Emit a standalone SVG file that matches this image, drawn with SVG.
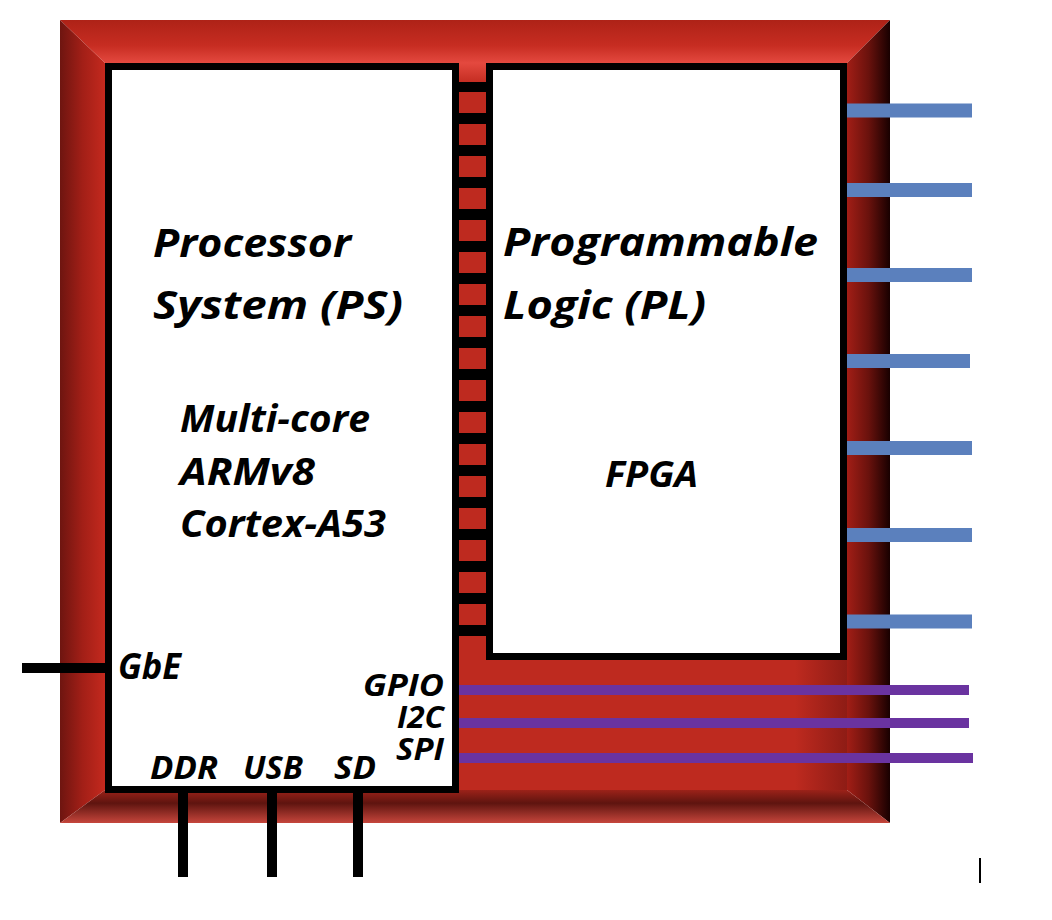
<svg xmlns="http://www.w3.org/2000/svg" width="1052" height="920" viewBox="0 0 1052 920">
  <style>
    .lbl { font-family: "Open Sans", Lato, "Liberation Sans", sans-serif; font-weight: bold; font-style: italic; fill: #000; }
    .box { fill: #fff; stroke: #000; stroke-width: 7; }
    .blue { stroke: #5B80BD; stroke-width: 14; }
    .purple { stroke: #6A33A0; stroke-width: 10; }
    .blk { stroke: #000; stroke-width: 10; }
    .sq { fill: #BE2A1F; }
  </style>
  <defs>
    <linearGradient id="gTop" x1="0" y1="0" x2="0" y2="1">
      <stop offset="0" stop-color="#AE2217"/>
      <stop offset="0.6" stop-color="#C72D22"/>
      <stop offset="1" stop-color="#E4493F"/>
    </linearGradient>
    <linearGradient id="gLeft" x1="0" y1="0" x2="1" y2="0">
      <stop offset="0" stop-color="#6E1510"/>
      <stop offset="0.5" stop-color="#A21F17"/>
      <stop offset="1" stop-color="#C4291E"/>
    </linearGradient>
    <linearGradient id="gRight" x1="0" y1="0" x2="1" y2="0">
      <stop offset="0" stop-color="#A21E16"/>
      <stop offset="0.5" stop-color="#6A120D"/>
      <stop offset="1" stop-color="#180000"/>
    </linearGradient>
    <linearGradient id="gBottom" x1="0" y1="0" x2="0" y2="1">
      <stop offset="0" stop-color="#9C2219"/>
      <stop offset="0.4" stop-color="#5E140F"/>
      <stop offset="1" stop-color="#C6463C"/>
    </linearGradient>
    <linearGradient id="gInner" x1="0" y1="0" x2="1" y2="0">
      <stop offset="0" stop-color="#BE2A1F"/>
      <stop offset="0.93" stop-color="#BE2A1F"/>
      <stop offset="1" stop-color="#8E1C15"/>
    </linearGradient>
    <linearGradient id="gGap" x1="0" y1="0" x2="0" y2="1">
      <stop offset="0" stop-color="#E4493F"/>
      <stop offset="1" stop-color="#C32C21"/>
    </linearGradient>
  </defs>

  <rect width="1052" height="920" fill="#fff"/>

  <g id="package">
    <rect x="105" y="63" width="742" height="727" fill="url(#gInner)"/>
    <polygon points="60,20 890,20 847,63 105,63" fill="url(#gTop)"/>
    <polygon points="60,20 105,63 105,790 60,823" fill="url(#gLeft)"/>
    <polygon points="890,20 890,823 847,790 847,63" fill="url(#gRight)"/>
    <polygon points="60,823 105,790 847,790 890,823" fill="url(#gBottom)"/>
    <rect x="459" y="63" width="28" height="20" fill="url(#gGap)"/>
  </g>

  <g id="connectors">
    <line class="blue" x1="843" y1="110.5" x2="972" y2="110.5"/>
    <line class="blue" x1="843" y1="190" x2="972" y2="190"/>
    <line class="blue" x1="843" y1="275" x2="972" y2="275"/>
    <line class="blue" x1="840" y1="361" x2="970" y2="361"/>
    <line class="blue" x1="843" y1="448" x2="972" y2="448"/>
    <line class="blue" x1="843" y1="535" x2="972" y2="535"/>
    <line class="blue" x1="843" y1="621.5" x2="972" y2="621.5"/>
    <line class="purple" x1="453" y1="690" x2="969" y2="690"/>
    <line class="purple" x1="453" y1="723" x2="969" y2="723"/>
    <line class="purple" x1="453" y1="758" x2="973" y2="758"/>
    <line class="blk" x1="22" y1="668" x2="108" y2="668"/>
    <line class="blk" x1="183" y1="790" x2="183" y2="877"/>
    <line class="blk" x1="272" y1="790" x2="272" y2="877"/>
    <line class="blk" x1="358" y1="790" x2="358" y2="877"/>
    <line x1="980" y1="858" x2="980" y2="883" stroke="#000" stroke-width="2"/>
  </g>

  <g id="interconnect">
    <rect x="452" y="82" width="41" height="554" fill="#000"/>
    <rect class="sq" x="459" y="92" width="27" height="21"/>
    <rect class="sq" x="459" y="124" width="27" height="21"/>
    <rect class="sq" x="459" y="156" width="27" height="21"/>
    <rect class="sq" x="459" y="188" width="27" height="21"/>
    <rect class="sq" x="459" y="220" width="27" height="21"/>
    <rect class="sq" x="459" y="252" width="27" height="21"/>
    <rect class="sq" x="459" y="284" width="27" height="21"/>
    <rect class="sq" x="459" y="316" width="27" height="21"/>
    <rect class="sq" x="459" y="348" width="27" height="21"/>
    <rect class="sq" x="459" y="380" width="27" height="21"/>
    <rect class="sq" x="459" y="412" width="27" height="21"/>
    <rect class="sq" x="459" y="444" width="27" height="21"/>
    <rect class="sq" x="459" y="476" width="27" height="21"/>
    <rect class="sq" x="459" y="508" width="27" height="21"/>
    <rect class="sq" x="459" y="540" width="27" height="21"/>
    <rect class="sq" x="459" y="572" width="27" height="21"/>
    <rect class="sq" x="459" y="604" width="27" height="21"/>
  </g>

  <g id="ps">
    <rect class="box" x="108.5" y="66.5" width="347" height="723"/>
    <text class="lbl" x="153" y="257" font-size="39" textLength="198" lengthAdjust="spacingAndGlyphs">Processor</text>
    <text class="lbl" x="153" y="319" font-size="39" textLength="250" lengthAdjust="spacingAndGlyphs">System (PS)</text>
    <text class="lbl" x="180" y="432" font-size="37" textLength="190" lengthAdjust="spacingAndGlyphs">Multi-core</text>
    <text class="lbl" x="180" y="485" font-size="37" textLength="135" lengthAdjust="spacingAndGlyphs">ARMv8</text>
    <text class="lbl" x="180" y="537" font-size="37" textLength="206" lengthAdjust="spacingAndGlyphs">Cortex-A53</text>
    <text class="lbl" x="118" y="679" font-size="35" textLength="63" lengthAdjust="spacingAndGlyphs">GbE</text>
    <text class="lbl" x="363" y="696" font-size="30" textLength="81" lengthAdjust="spacingAndGlyphs">GPIO</text>
    <text class="lbl" x="397" y="728" font-size="30" textLength="47" lengthAdjust="spacingAndGlyphs">I2C</text>
    <text class="lbl" x="396" y="760" font-size="30" textLength="48" lengthAdjust="spacingAndGlyphs">SPI</text>
    <text class="lbl" x="150" y="779" font-size="32" textLength="68" lengthAdjust="spacingAndGlyphs">DDR</text>
    <text class="lbl" x="243" y="779" font-size="32" textLength="60" lengthAdjust="spacingAndGlyphs">USB</text>
    <text class="lbl" x="334" y="779" font-size="32" textLength="42" lengthAdjust="spacingAndGlyphs">SD</text>
  </g>

  <g id="pl">
    <rect class="box" x="489.5" y="66.5" width="354" height="590"/>
    <text class="lbl" x="503" y="256" font-size="39" textLength="315" lengthAdjust="spacingAndGlyphs">Programmable</text>
    <text class="lbl" x="503" y="319" font-size="39" textLength="203" lengthAdjust="spacingAndGlyphs">Logic (PL)</text>
    <text class="lbl" x="605" y="487" font-size="35" textLength="93" lengthAdjust="spacingAndGlyphs">FPGA</text>
  </g>
</svg>
